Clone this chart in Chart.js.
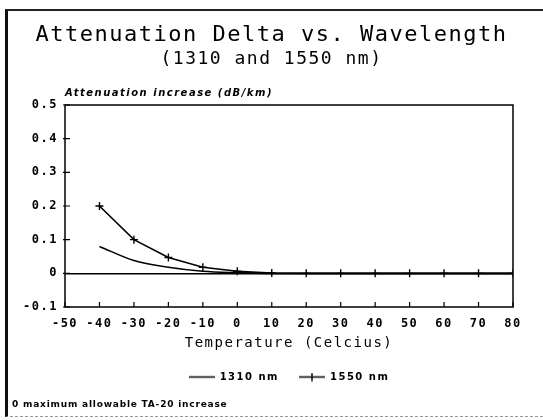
<!DOCTYPE html>
<html><head><meta charset="utf-8">
<script src="https://cdn.jsdelivr.net/npm/chart.js@4"></script>
<style>
html,body{margin:0;padding:0;background:#fff;}
#wrap{position:relative;width:543px;height:420px;overflow:hidden;}
#frame{position:absolute;left:5px;top:9px;right:-5px;bottom:3px;border-left:3px solid #111;border-top:2px solid #222;border-bottom:1px dashed #999;}
canvas{position:absolute;left:0;top:0;}
</style></head>
<body><div id="wrap"><div id="frame"></div><canvas id="c" width="543" height="420"></canvas></div>
<script>
const temperatures = [-40, -30, -20, -10, 0, 10, 20, 30, 40, 50, 60, 70, 80];
const att1310 = [0.08, 0.038, 0.018, 0.006, 0.002, 0, 0, 0, 0, 0, 0, 0, 0];
const att1550 = [0.2, 0.1, 0.047, 0.018, 0.006, 0.001, 0, 0, 0, 0, 0, 0, 0];
const xTicks = [-50, -40, -30, -20, -10, 0, 10, 20, 30, 40, 50, 60, 70, 80];
const xTickLabels = ['-50', '-40', '-30', '-20', '-10', '0', '10', '20', '30', '40', '50', '60', '70', '80'];
const yTicks = [-0.1, 0, 0.1, 0.2, 0.3, 0.4, 0.5];
const yTickLabels = ['-0.1', '0', '0.1', '0.2', '0.3', '0.4', '0.5'];
const seriesNames = ['1310 nm', '1550 nm'];

function mkStyle(cross) {
  const c = document.createElement('canvas');
  c.width = 26; c.height = 9;
  const g = c.getContext('2d');
  g.strokeStyle = '#000'; g.lineWidth = 1.5;
  g.beginPath(); g.moveTo(0, 4.5); g.lineTo(26, 4.5);
  if (cross) { g.moveTo(13, 0.5); g.lineTo(13, 8.5); }
  g.stroke();
  return c;
}
const legendStyles = [mkStyle(false), mkStyle(true)];

const spacingPlugin = {
  id: 'spacingPlugin',
  beforeUpdate(chart) { chart.ctx.letterSpacing = '1.5px'; },
  beforeDraw(chart) { chart.ctx.letterSpacing = '1.5px'; }
};

const framePlugin = {
  id: 'framePlugin',
  afterDraw(chart) {
    const {ctx, chartArea: a, scales: {x, y}} = chart;
    ctx.save();
    ctx.strokeStyle = '#000';
    ctx.lineWidth = 1.5;
    ctx.strokeRect(a.left, a.top, a.right - a.left, a.bottom - a.top);
    ctx.lineWidth = 1.2;
    ctx.beginPath();
    yTicks.forEach(v => { const p = y.getPixelForValue(v); ctx.moveTo(a.left - 2, p); ctx.lineTo(a.left + 5, p); });
    xTicks.forEach(v => { const p = x.getPixelForValue(v); ctx.moveTo(p, a.bottom); ctx.lineTo(p, a.bottom - 5); });
    ctx.stroke();
    ctx.fillStyle = '#000';
    ctx.letterSpacing = '1.5px';
    ctx.font = 'italic bold 10px "DejaVu Sans"';
    ctx.textBaseline = 'middle';
    ctx.textAlign = 'left';
    ctx.fillText('Attenuation increase (dB/km)', a.left, a.top - 12);
    ctx.letterSpacing = '0.8px';
    ctx.font = 'bold 9px "DejaVu Sans"';
    ctx.fillText('0 maximum allowable TA-20 increase', 12, 405);
    ctx.restore();
  }
};

new Chart(document.getElementById('c'), {
  type: 'line',
  data: {
    datasets: [
      { label: seriesNames[0], data: temperatures.map((t, i) => ({x: t, y: att1310[i]})),
        borderColor: '#000', borderWidth: 1.6, pointRadius: 0, cubicInterpolationMode: 'monotone', fill: false },
      { label: seriesNames[1], data: temperatures.map((t, i) => ({x: t, y: att1550[i]})),
        borderColor: '#000', borderWidth: 1.6, pointStyle: 'cross', pointRadius: 4, pointBorderWidth: 1.4,
        pointBorderColor: '#000', tension: 0, fill: false }
    ]
  },
  options: {
    responsive: false,
    animation: false,
    devicePixelRatio: 1,
    layout: { padding: { left: 0, right: 0, top: 0, bottom: 28 } },
    plugins: {
      title: { display: true, text: 'Attenuation Delta vs. Wavelength', color: '#000',
        font: { family: '"DejaVu Sans Mono"', size: 22, weight: 'normal' }, padding: { top: 22, bottom: 0 } },
      subtitle: { display: true, text: '(1310 and 1550 nm)', color: '#000',
        font: { family: '"DejaVu Sans Mono"', size: 18, weight: 'normal' }, padding: { top: 0, bottom: 35 } },
      legend: { position: 'bottom', fullSize: false,
        labels: { color: '#000', usePointStyle: true, pointStyleWidth: 26, boxHeight: 9, padding: 20,
          font: { family: '"DejaVu Sans"', size: 10, weight: 'bold' },
          generateLabels(chart) {
            return chart.data.datasets.map((d, i) => ({ text: d.label, pointStyle: legendStyles[i], datasetIndex: i,
              fillStyle: '#000', strokeStyle: '#000', lineWidth: 0, fontColor: '#000' }));
          } } },
      tooltip: { enabled: false }
    },
    scales: {
      x: { type: 'linear', min: -50, max: 80,
        afterBuildTicks(s) { s.ticks = xTicks.map(v => ({value: v})); },
        afterFit(s) { s.height = 45; },
        grid: { display: false, drawTicks: false },
        border: { display: false },
        ticks: { color: '#000', padding: 10, maxRotation: 0, autoSkip: false,
          font: { family: '"DejaVu Sans Mono"', size: 12, weight: 'bold' },
          callback: (v) => xTickLabels[xTicks.indexOf(v)] },
        title: { display: true, text: 'Temperature (Celcius)', color: '#000', padding: { top: 0, bottom: 0 },
          font: { family: '"DejaVu Sans Mono"', size: 14, weight: 'normal' } } },
      y: { type: 'linear', min: -0.1, max: 0.5,
        afterBuildTicks(s) { s.ticks = yTicks.map(v => ({value: v})); },
        afterFit(s) { s.width = 65; },
        grid: { drawTicks: false, lineWidth: 1.5,
          color: (c) => (c.tick && Math.abs(c.tick.value) < 1e-9) ? '#000' : 'rgba(0,0,0,0)' },
        border: { display: false },
        ticks: { color: '#000', padding: 7, autoSkip: false,
          font: { family: '"DejaVu Sans Mono"', size: 12, weight: 'bold' },
          callback: (v) => { const i = yTicks.findIndex(t => Math.abs(t - v) < 1e-9); return i >= 0 ? yTickLabels[i] : ''; } } },
      yRight: { type: 'linear', position: 'right', display: true,
        afterFit(s) { s.width = 30; },
        grid: { display: false, drawTicks: false }, border: { display: false },
        ticks: { display: false } }
    }
  },
  plugins: [spacingPlugin, framePlugin]
});
</script>
</body></html>
